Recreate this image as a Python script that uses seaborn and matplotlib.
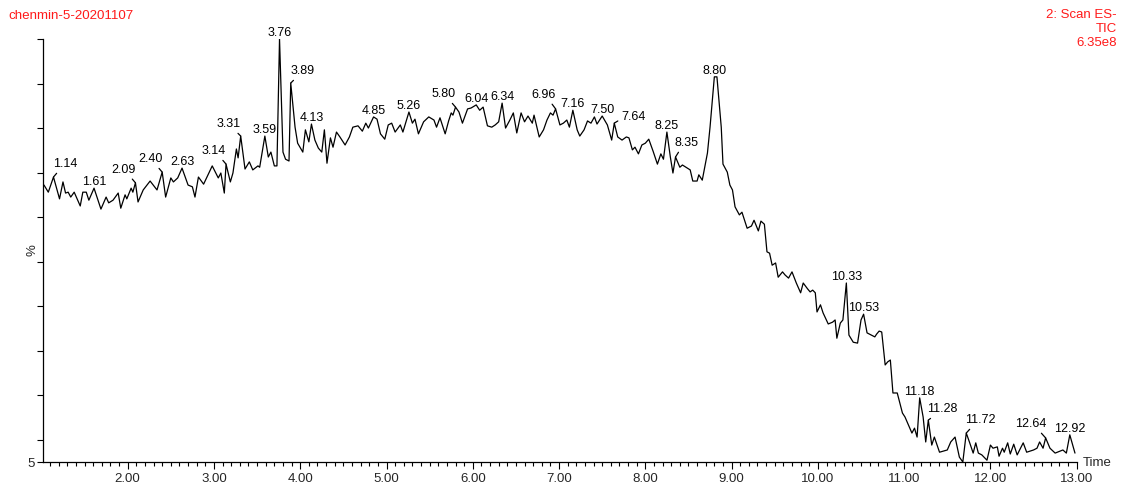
import matplotlib
matplotlib.use("Agg")
import matplotlib.pyplot as plt
import seaborn as sns
import pandas as pd
import numpy as np
from matplotlib.ticker import MultipleLocator, FixedLocator

# ---- data (retention time in min, relative intensity in %) ----
times = [
    1.03, 1.08, 1.14, 1.21, 1.25, 1.28, 1.31, 1.34, 1.38, 1.45, 1.48, 1.52, 1.55, 1.61, 1.69, 1.75,
    1.78, 1.83, 1.89, 1.92, 1.97, 1.99, 2.04, 2.06, 2.09, 2.12, 2.18, 2.26, 2.34, 2.40, 2.44, 2.50,
    2.53, 2.58, 2.63, 2.70, 2.75, 2.78, 2.82, 2.88, 2.98, 3.05, 3.08, 3.12, 3.14, 3.19, 3.22, 3.26,
    3.28, 3.31, 3.36, 3.41, 3.45, 3.51, 3.53, 3.59, 3.63, 3.66, 3.70, 3.73, 3.76, 3.80, 3.83, 3.87,
    3.89, 3.94, 3.97, 4.03, 4.06, 4.10, 4.13, 4.17, 4.21, 4.25, 4.28, 4.31, 4.35, 4.38, 4.42, 4.46,
    4.52, 4.57, 4.61, 4.67, 4.72, 4.76, 4.79, 4.85, 4.89, 4.93, 4.98, 5.02, 5.06, 5.10, 5.16, 5.19,
    5.26, 5.30, 5.33, 5.37, 5.43, 5.49, 5.55, 5.58, 5.62, 5.68, 5.72, 5.75, 5.77, 5.80, 5.84, 5.88,
    5.94, 5.98, 6.04, 6.08, 6.12, 6.17, 6.22, 6.26, 6.30, 6.34, 6.38, 6.43, 6.47, 6.51, 6.56, 6.60,
    6.64, 6.69, 6.71, 6.77, 6.82, 6.86, 6.90, 6.93, 6.96, 7.01, 7.05, 7.09, 7.12, 7.16, 7.21, 7.24,
    7.29, 7.33, 7.37, 7.41, 7.44, 7.50, 7.56, 7.61, 7.64, 7.68, 7.73, 7.78, 7.81, 7.85, 7.88, 7.92,
    7.96, 8.00, 8.04, 8.09, 8.14, 8.18, 8.21, 8.25, 8.29, 8.32, 8.35, 8.40, 8.43, 8.47, 8.52, 8.55,
    8.60, 8.62, 8.66, 8.72, 8.75, 8.80, 8.83, 8.88, 8.90, 8.95, 8.98, 9.01, 9.04, 9.09, 9.12, 9.18,
    9.23, 9.26, 9.31, 9.34, 9.38, 9.41, 9.44, 9.47, 9.51, 9.54, 9.59, 9.62, 9.66, 9.70, 9.75, 9.80,
    9.83, 9.88, 9.91, 9.94, 9.97, 9.99, 10.03, 10.06, 10.12, 10.17, 10.20, 10.22, 10.26, 10.29, 10.33, 10.36,
    10.41, 10.46, 10.50, 10.53, 10.57, 10.62, 10.66, 10.68, 10.71, 10.74, 10.78, 10.81, 10.84, 10.87, 10.92, 10.98,
    11.01, 11.05, 11.09, 11.12, 11.15, 11.18, 11.22, 11.25, 11.28, 11.32, 11.35, 11.41, 11.50, 11.54, 11.59, 11.64,
    11.68, 11.72, 11.76, 11.80, 11.83, 11.86, 11.90, 11.96, 12.00, 12.03, 12.08, 12.10, 12.14, 12.16, 12.20, 12.23,
    12.27, 12.31, 12.38, 12.42, 12.50, 12.54, 12.57, 12.61, 12.64, 12.69, 12.75, 12.84, 12.88, 12.92, 12.98,
]
intensity = [
    67.2, 65.6, 69.0, 64.1, 67.9, 65.4, 65.6, 64.5, 65.6, 62.5, 65.6, 65.6, 63.8, 66.5, 61.8, 64.5,
    63.2, 63.8, 65.4, 62.0, 65.0, 64.1, 66.5, 65.6, 67.7, 63.4, 66.1, 68.1, 66.1, 70.1, 64.5, 68.8,
    67.9, 68.8, 71.0, 67.2, 66.8, 64.5, 69.0, 67.4, 71.5, 68.8, 69.9, 65.4, 71.9, 67.9, 69.9, 75.3,
    73.3, 78.2, 70.8, 72.4, 70.6, 71.5, 71.2, 78.2, 73.5, 74.6, 71.5, 71.5, 100.0, 74.6, 73.0, 72.6,
    90.1, 80.2, 76.6, 74.6, 79.6, 76.9, 80.9, 77.3, 75.5, 74.6, 79.6, 72.1, 77.8, 75.7, 79.1, 78.0,
    76.2, 78.0, 80.2, 80.5, 79.3, 81.1, 80.0, 82.5, 82.0, 78.7, 77.5, 80.7, 81.1, 79.1, 80.7, 79.1,
    83.6, 81.1, 82.0, 78.7, 81.4, 82.5, 81.8, 80.2, 82.3, 78.7, 81.6, 83.4, 82.9, 84.7, 83.6, 81.1,
    84.3, 84.5, 85.2, 84.0, 84.7, 80.5, 80.2, 80.7, 81.4, 85.6, 80.0, 81.8, 83.4, 78.9, 83.4, 81.4,
    82.7, 81.1, 82.9, 78.0, 79.6, 81.8, 83.4, 82.9, 84.3, 80.7, 81.1, 81.8, 80.2, 84.0, 79.6, 78.2,
    79.6, 81.6, 81.1, 82.5, 80.9, 82.7, 80.7, 77.3, 81.1, 78.0, 77.3, 78.0, 77.8, 75.1, 75.7, 74.2,
    76.2, 76.6, 77.5, 74.8, 71.9, 74.2, 73.0, 79.1, 73.5, 69.9, 73.5, 71.2, 71.7, 71.2, 70.6, 68.1,
    68.1, 69.5, 68.3, 74.4, 80.2, 91.5, 91.5, 80.2, 71.9, 70.1, 67.2, 66.1, 62.3, 60.5, 61.1, 57.5,
    58.0, 59.3, 56.9, 59.1, 58.4, 52.2, 51.9, 49.2, 49.7, 46.5, 47.7, 47.0, 46.3, 47.7, 45.2, 43.0,
    45.2, 43.9, 43.2, 43.6, 43.0, 38.7, 40.3, 38.5, 36.0, 36.4, 36.9, 32.8, 36.2, 36.9, 45.2, 33.5,
    31.9, 31.7, 36.9, 38.2, 34.0, 33.5, 33.1, 33.7, 34.4, 34.2, 26.8, 27.5, 27.9, 20.5, 20.5, 16.0,
    15.1, 13.3, 11.5, 12.6, 10.6, 19.4, 15.1, 9.5, 14.4, 8.8, 10.6, 7.2, 7.7, 9.5, 10.6, 6.1,
    5.0, 11.5, 9.3, 7.0, 9.3, 7.0, 6.6, 5.4, 8.8, 8.1, 8.4, 6.3, 8.1, 7.2, 9.3, 6.8,
    9.0, 6.6, 9.3, 7.2, 7.7, 8.1, 9.5, 8.1, 10.4, 8.1, 7.0, 7.7, 7.0, 11.1, 7.0,
]
peak_labels = ["1.14", "1.61", "2.09", "2.40", "2.63", "3.14", "3.31", "3.59", "3.76", "3.89",
               "4.13", "4.85", "5.26", "5.80", "6.04", "6.34", "6.96", "7.16", "7.50", "7.64",
               "8.25", "8.35", "8.80", "10.33", "10.53", "11.18", "11.28", "11.72", "12.64", "12.92"]
x_tick_labels = ["2.00", "3.00", "4.00", "5.00", "6.00", "7.00", "8.00", "9.00",
                 "10.00", "11.00", "12.00", "13.00"]
sample_name = "chenmin-5-20201107"
trace_info = "2: Scan ES-\nTIC\n6.35e8"

# ---- style: label offsets in pixels (text-centre dx, baseline dy) for labels with leaders ----
label_offsets = {
    "1.14": (12, 10), "2.09": (-12, 10), "2.40": (-12, 10), "3.14": (-12, 10),
    "3.31": (-12, 9), "3.89": (12, 9), "5.80": (-12, 10), "6.96": (-12, 11),
    "7.64": (19, 3), "8.35": (11, 11), "11.28": (14, 8), "11.72": (14, 10),
    "12.64": (-15, 11),
}

sns.set_style("ticks")
plt.rcParams["font.family"] = ["Liberation Sans", "DejaVu Sans"]

W, H = 1126, 486
fig = plt.figure(figsize=(W / 100, H / 100), dpi=100)
ax = fig.add_axes([42.7 / W, 1 - 462 / H, (1076.7 - 42.7) / W, (462 - 39) / H])

df = pd.DataFrame({"Time": times, "Intensity": intensity})
sns.lineplot(data=df, x="Time", y="Intensity", ax=ax, color="black",
             linewidth=0.9, sort=False, estimator=None)

ax.set_xlim(1.015, 13.0)
ax.set_ylim(5, 100)
ax.set_xlabel("")
ax.set_ylabel("")

for s in ["top", "right"]:
    ax.spines[s].set_visible(False)
for s in ["left", "bottom"]:
    ax.spines[s].set_linewidth(0.9)
    ax.spines[s].set_color("black")

# x ticks
major_x = [float(t) for t in x_tick_labels]
ax.xaxis.set_major_locator(FixedLocator(major_x))
ax.set_xticklabels(x_tick_labels)
ax.xaxis.set_minor_locator(MultipleLocator(0.1))
ax.tick_params(axis="x", which="major", length=5, width=0.8, labelsize=9.5, pad=3, color="black")
ax.tick_params(axis="x", which="minor", length=3, width=0.8, color="black")

# y ticks
yt = [5] + list(range(10, 101, 10))
ax.yaxis.set_major_locator(FixedLocator(yt))
ax.set_yticklabels(["5"] + [""] * (len(yt) - 1))
ax.tick_params(axis="y", which="major", length=4, width=0.8, labelsize=9.5, pad=2, color="black")
ax.yaxis.set_minor_locator(FixedLocator([]))

# peak annotations
tarr = np.array(times)
for lab in peak_labels:
    i = int(np.argmin(np.abs(tarr - float(lab))))
    xp, yp = times[i], intensity[i]
    if lab in label_offsets:
        dx, dy = label_offsets[lab]
        if lab == "7.64":
            rel = (0.0, 0.35)
        else:
            rel = (0.25, 0.0) if dx > 0 else (0.75, 0.0)
        ax.annotate(lab, xy=(xp, yp), xytext=(dx, dy), textcoords="offset pixels",
                    ha="center", va="baseline", fontsize=9, color="black",
                    arrowprops=dict(arrowstyle="-", lw=0.9, color="black",
                                    shrinkA=0, shrinkB=0, relpos=rel))
    else:
        ax.annotate(lab, xy=(xp, yp), xytext=(0, 3), textcoords="offset pixels",
                    ha="center", va="baseline", fontsize=9, color="black")

# texts around the plot
red = "#ff1a1a"
fig.text(8 / W, 1 - 16 / H, sample_name, color=red, fontsize=9.6, ha="left", va="center")
fig.text(1117 / W, 1 - 9 / H, trace_info, color=red, fontsize=9.5, ha="right", va="top",
         linespacing=1.22)
fig.text(33 / W, 1 - 250 / H, "%", rotation=90, fontsize=9.5, ha="center", va="center")
fig.text(1083 / W, 1 - 463 / H, "Time", fontsize=9.5, ha="left", va="center")

fig.savefig("out.png", dpi=100)
